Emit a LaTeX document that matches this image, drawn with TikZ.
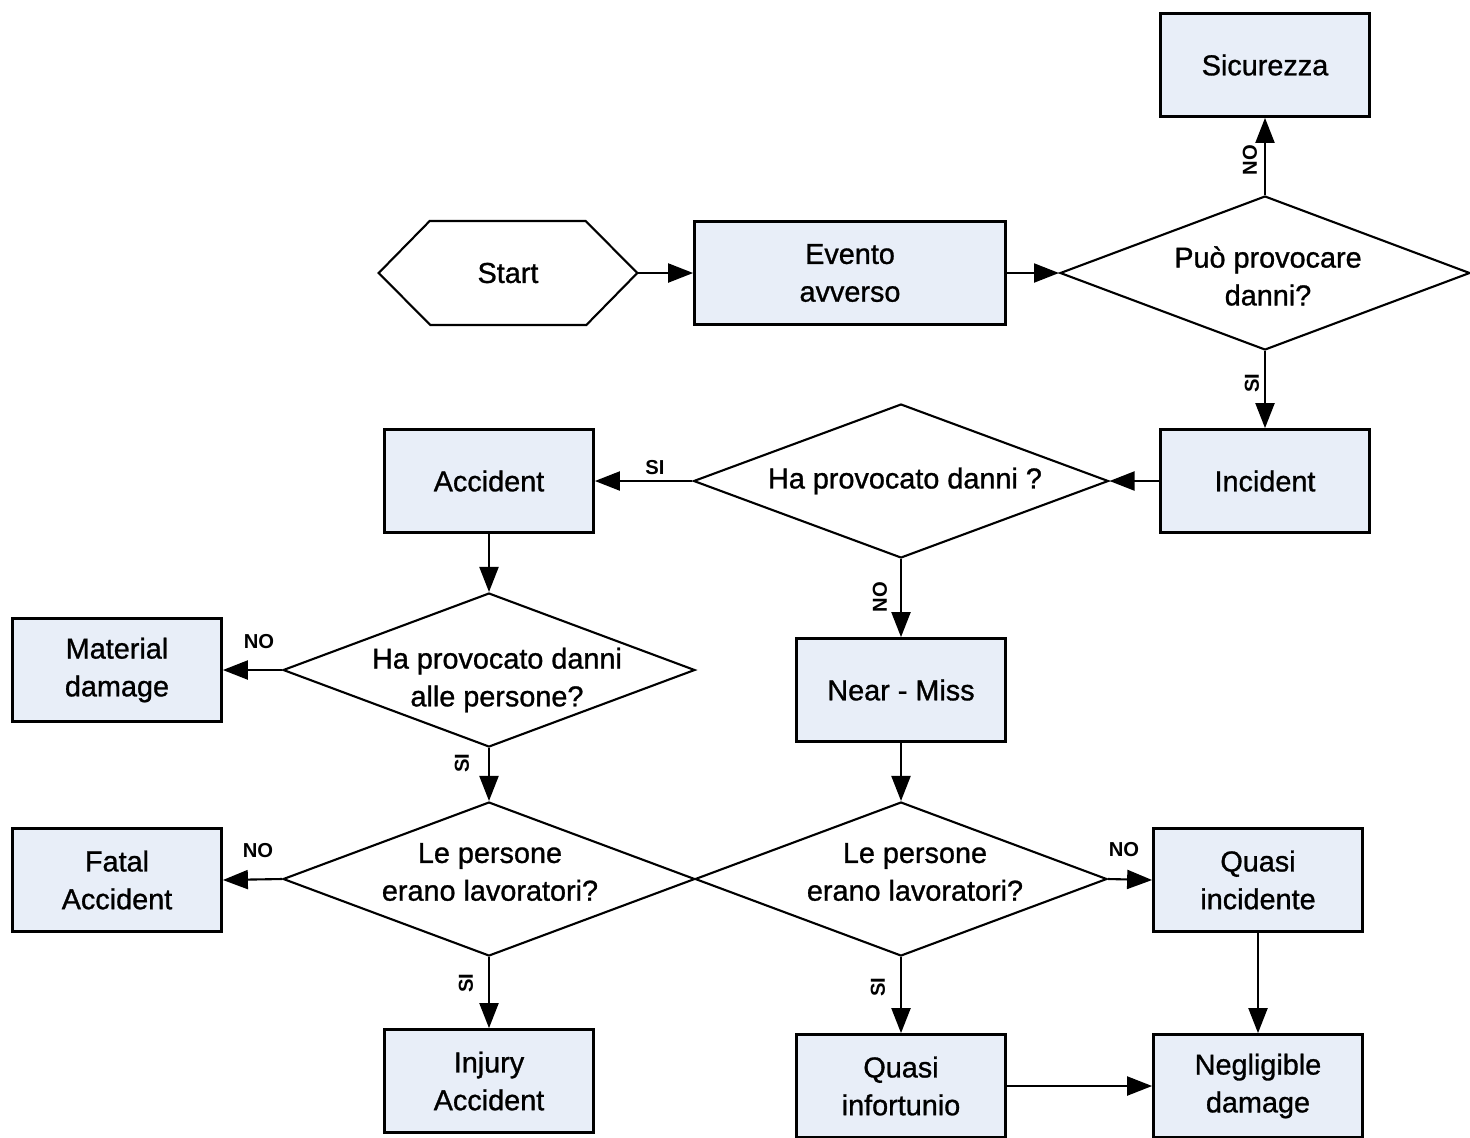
\documentclass[tikz,border=0pt]{standalone}
\usepackage{fontspec}
\setmainfont{Liberation Sans}
\newfontfamily\semib{Liberation Sans}[FakeBold=1]
\usetikzlibrary{shapes.geometric,arrows.meta}
\definecolor{boxfill}{RGB}{232,238,248}
\newcommand{\txtfont}{\semib\fontsize{16.4}{21.5}\selectfont}
\newcommand{\labfont}{\fontsize{11.5}{12}\selectfont\bfseries}
\begin{document}
\begin{tikzpicture}[x=0.02cm,y=-0.02cm,
  box/.style={draw=black,line width=1.6pt,fill=boxfill,minimum width=4.18cm,minimum height=2.06cm,align=center,font=\txtfont,inner sep=0pt},
  dia/.style={draw=black,line width=1.2pt,fill=white,shape=diamond,aspect=2.7,minimum width=8.24cm,minimum height=3.08cm,inner sep=0pt,align=center,font=\txtfont},
  dtext/.style={font=\txtfont,align=center},
  arr/.style={line width=1.2pt,-{Triangle[length=0.5cm,width=0.38cm]}},
  lab/.style={font=\labfont,inner sep=1pt}]
\useasboundingbox (0,0) rectangle (1470,1137);
% nodes
\node[box] (sic) at (1265,65) {Sicurezza};
\node[minimum width=5.16cm,minimum height=2.08cm,font=\txtfont,inner sep=0pt] (start) at (508,273) {Start};
\draw[line width=1.2pt] (start.west) -- ++(51,-52) -- ++(156,0) -- (start.east) -- ++(-51,52) -- ++(-156,0) -- cycle;
\node[box,minimum width=6.22cm] (ev) at (850,273) {Evento\\avverso};
\node[dia,minimum width=8.2cm] (d1) at (1265,273) {};
\node[dtext] at (1268,276) {Può provocare\\danni?};
\node[box] (inc) at (1265,481) {Incident};
\node[dia,minimum width=8.3cm] (d2) at (901,481) {};
\node[dtext] at (905,481) {Ha provocato danni ?};
\node[box] (acc) at (489,481) {Accident};
\node[dia] (d3) at (489,670) {};
\node[dtext] at (497,680) {Ha provocato danni\\alle persone?};
\node[box] (mat) at (117,670) {Material\\damage};
\node[box] (nm) at (901,690) {Near - Miss};
\node[dia] (d4) at (489,879) {};
\node[dtext] at (490,872) {Le persone\\erano lavoratori?};
\node[dia] (d5) at (901,879) {};
\node[dtext] at (915,872) {Le persone\\erano lavoratori?};
\node[box] (fat) at (117,880) {Fatal\\Accident};
\node[box] (qinc) at (1258,880) {Quasi\\incidente};
\node[box] (inj) at (489,1081) {Injury\\Accident};
\node[box] (qinf) at (901,1086) {Quasi\\infortunio};
\node[box] (neg) at (1258,1086) {Negligible\\damage};
% connectors
\draw[arr] (start.east) -- (ev.west);
\draw[arr] (ev.east) -- (d1.west);
\draw[arr] (d1.north) -- (sic.south);
\draw[arr] (d1.south) -- (inc.north);
\draw[arr] (inc.west) -- (d2.east);
\draw[arr] (d2.west) -- (acc.east);
\draw[arr] (d2.south) -- (nm.north);
\draw[arr] (acc.south) -- (d3.north);
\draw[arr] (d3.west) -- (mat.east);
\draw[arr] (d3.south) -- (d4.north);
\draw[arr] (nm.south) -- (d5.north);
\draw[arr] (d4.west) -- (fat.east);
\draw[arr] (d4.south) -- (inj.north);
\draw[arr] (d5.east) -- (qinc.west);
\draw[arr] (d5.south) -- (qinf.north);
\draw[arr] (qinc.south) -- (neg.north);
\draw[arr] (qinf.east) -- (neg.west);
% labels
\node[lab,rotate=90] at (1250,160) {NO};
\node[lab,rotate=90] at (1252,383) {SI};
\node[lab] at (655,468) {SI};
\node[lab,rotate=90] at (880,597) {NO};
\node[lab] at (259,642) {NO};
\node[lab,rotate=90] at (462,763) {SI};
\node[lab] at (258,851) {NO};
\node[lab,rotate=90] at (466,983) {SI};
\node[lab] at (1124,850) {NO};
\node[lab,rotate=90] at (878,987) {SI};
\end{tikzpicture}
\end{document}
